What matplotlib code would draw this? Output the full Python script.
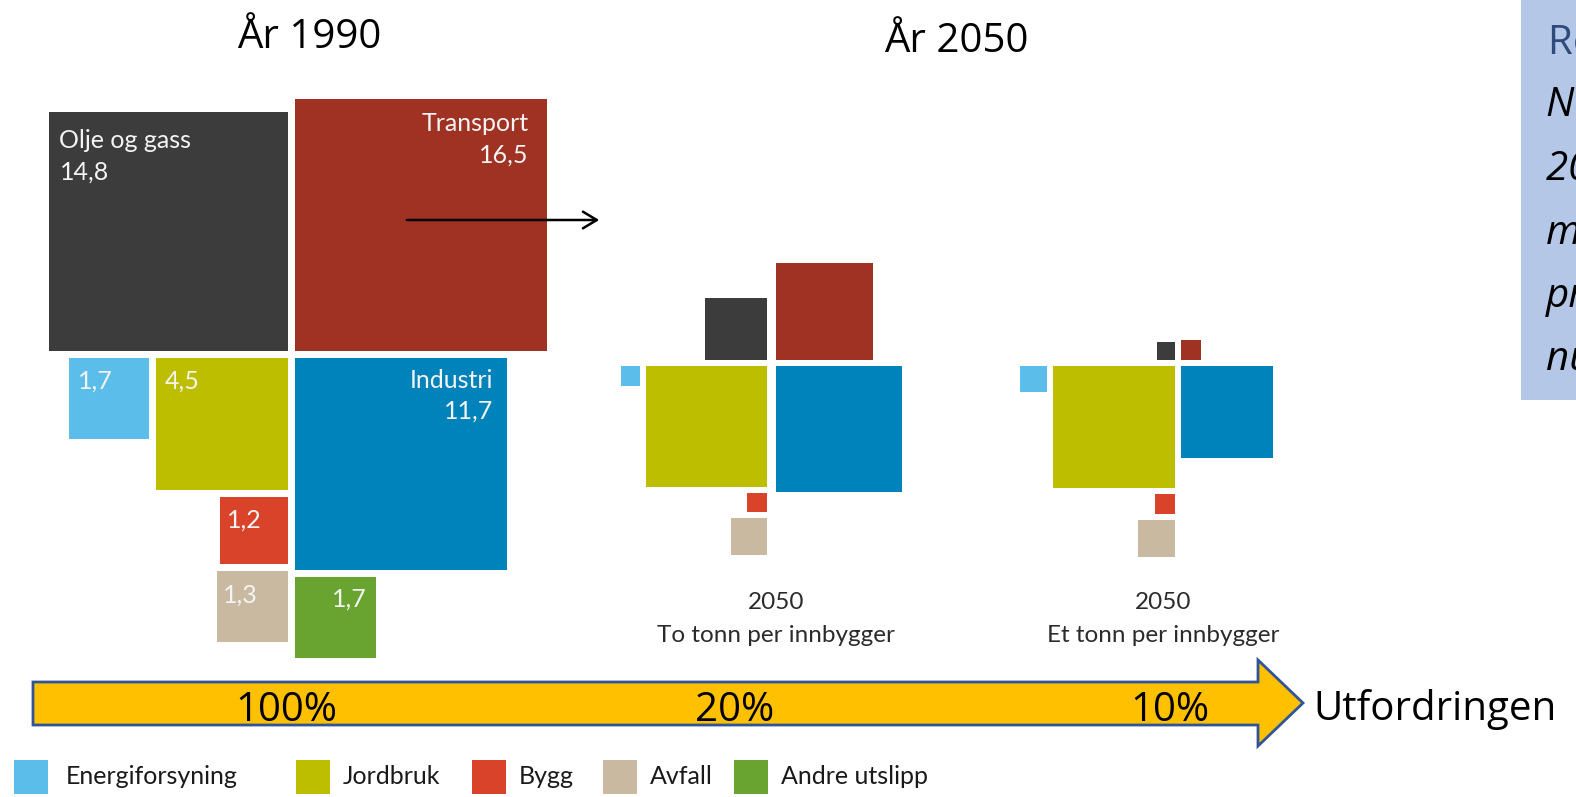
import numpy as np
import matplotlib.pyplot as plt
from matplotlib.patches import Rectangle, Polygon

# Emissions by sector (mill. tonn CO2-ekv), 1990 and two 2050 scenarios
sectors = ['Olje og gass', 'Transport', 'Energiforsyning', 'Jordbruk',
           'Industri', 'Bygg', 'Avfall', 'Andre utslipp']
v1990 = [14.8, 16.5, 1.7, 4.5, 11.7, 1.2, 1.3, 1.7]
v2050_to = [1.0, 2.45, 0.1, 3.8, 4.1, 0.1, 0.34, 0.0]
v2050_et = [0.08, 0.1, 0.18, 3.9, 2.2, 0.1, 0.36, 0.0]
colors = ['#3c3c3c', '#a03224', '#5bbde9', '#bdbe00',
          '#0082bb', '#d9432a', '#c9b9a0', '#69a430']

shares = ['100%', '20%', '10%']
captions = ['2050\nTo tonn per innbygger', '2050\nEt tonn per innbygger']
legend_items = ['Energiforsyning', 'Jordbruk', 'Bygg', 'Avfall', 'Andre utslipp']

K = 62.0  # pixels per sqrt(value)
LIGHT = ['Lato', 'DejaVu Sans']
MAIN = ['Open Sans', 'DejaVu Sans']


def layout(vals, cx, cy, gx, gy):
    """Place squares (area ~ value) around a centre point. Returns (left, top, side)."""
    s = [np.sqrt(v) * K for v in vals]
    r = cx - gx / 2
    l = cx + gx / 2
    b = cy - gy / 2
    t = cy + gy / 2
    pos = [None] * 8
    pos[0] = (r - s[0], b - s[0], s[0])
    pos[1] = (l, b - s[1], s[1])
    pos[3] = (r - s[3], t, s[3])
    pos[4] = (l, t, s[4])
    pos[2] = (r - s[3] - gy - s[2], t, s[2])
    pos[5] = (r - s[5], t + s[3] + gy, s[5])
    pos[6] = (r - s[6], pos[5][1] + s[5] + gy, s[6])
    pos[7] = (l, t + s[4] + gy, s[7])
    return pos


fig = plt.figure(figsize=(15.76, 7.97), dpi=100)
ax = fig.add_axes([0, 0, 1, 1])
ax.set_xlim(0, 1576)
ax.set_ylim(797, 0)
ax.axis('off')

groups = [(v1990, 291.5, 354.5, 7, 7),
          (v2050_to, 771.5, 363, 9, 6),
          (v2050_et, 1178, 363, 6, 6)]
placed = []
for vals, cx, cy, gx, gy in groups:
    pos = layout(vals, cx, cy, gx, gy)
    placed.append(pos)
    for (x, y, s), c, v in zip(pos, colors, vals):
        if v > 0:
            ax.add_patch(Rectangle((x, y), s, s, facecolor=c, edgecolor='none'))

# labels in the 1990 squares
fmt = lambda v: f'{v:.1f}'.replace('.', ',')
p = placed[0]
lab = dict(color='#f4f4f4', fontsize=18, family=LIGHT, va='top', linespacing=1.42)
ax.text(p[0][0] + 10, p[0][1] + 17, f'{sectors[0]}\n{fmt(v1990[0])}', ha='left', **lab)
ax.text(p[1][0] + p[1][2] - 18, p[1][1] + 13, f'{sectors[1]}\n{fmt(v1990[1])}', ha='right',
        multialignment='right', **lab)
ax.text(p[4][0] + p[4][2] - 14, p[4][1] + 11, f'{sectors[4]}\n{fmt(v1990[4])}', ha='right',
        multialignment='right', **lab)
for i, dx in [(2, 9), (3, 8), (5, 7), (6, 6)]:
    ax.text(p[i][0] + dx, p[i][1] + 12, fmt(v1990[i]), ha='left', **lab)
ax.text(p[7][0] + 37, p[7][1] + 11, fmt(v1990[7]), ha='left', **lab)

# small arrow from 1990 towards 2050
ax.annotate('', xy=(602, 220), xytext=(404, 220),
            arrowprops=dict(arrowstyle='->,head_length=1.0,head_width=0.6', color='black', lw=1.8))

# titles
ax.text(309, 38, 'År 1990', ha='center', va='center', fontsize=29, family=MAIN)
ax.text(956, 42, 'År 2050', ha='center', va='center', fontsize=29, family=MAIN)

# captions under the 2050 groups
for cx, cap in zip([776, 1163], captions):
    ax.text(cx, 619, cap, ha='center', va='center', fontsize=17.5, family=LIGHT,
            color='#2b2b2b', linespacing=1.7)

# big yellow arrow
arrow = Polygon([(33, 682), (1258, 682), (1258, 660), (1303, 703),
                 (1258, 746), (1258, 725), (33, 725)], closed=True,
                facecolor='#ffc000', edgecolor='#2f5597', lw=2)
ax.add_patch(arrow)
for x, s in zip([286, 735, 1170], shares):
    ax.text(x, 711, s, ha='center', va='center', fontsize=29, family=MAIN)
ax.text(1313, 710, 'Utfordringen', ha='left', va='center', fontsize=29, family=MAIN)

# legend
legend_x = [14, 296, 472, 603, 734]
legend_c = [colors[2], colors[3], colors[5], colors[6], colors[7]]
for x, c, name in zip(legend_x, legend_c, legend_items):
    ax.add_patch(Rectangle((x, 760), 34, 34, facecolor=c, edgecolor='none'))
    ax.text(x + (52 if name == 'Energiforsyning' else 47), 777, name, ha='left', va='center',
            fontsize=18, family=LIGHT, color='#1a1a1a')

# side box (cut off at figure edge, as in the original slide)
ax.add_patch(Rectangle((1521, 0), 80, 400, facecolor='#b4c7e7', edgecolor='none', clip_on=False))
ax.text(1548, 42, 'Regjeringens mål:', ha='left', va='center', fontsize=29,
        family=MAIN, color='#2f4b7c')
box_lines = ['Norge skal i', '2050 være et', 'moderne og', 'produktivt', 'nullutslippssamfunn']
for i, line in enumerate(box_lines):
    ax.text(1546, 106 + i * 63.5, line, ha='left', va='center', fontsize=29,
            family=MAIN, style='italic', color='black')

fig.savefig('out.png', dpi=100)
